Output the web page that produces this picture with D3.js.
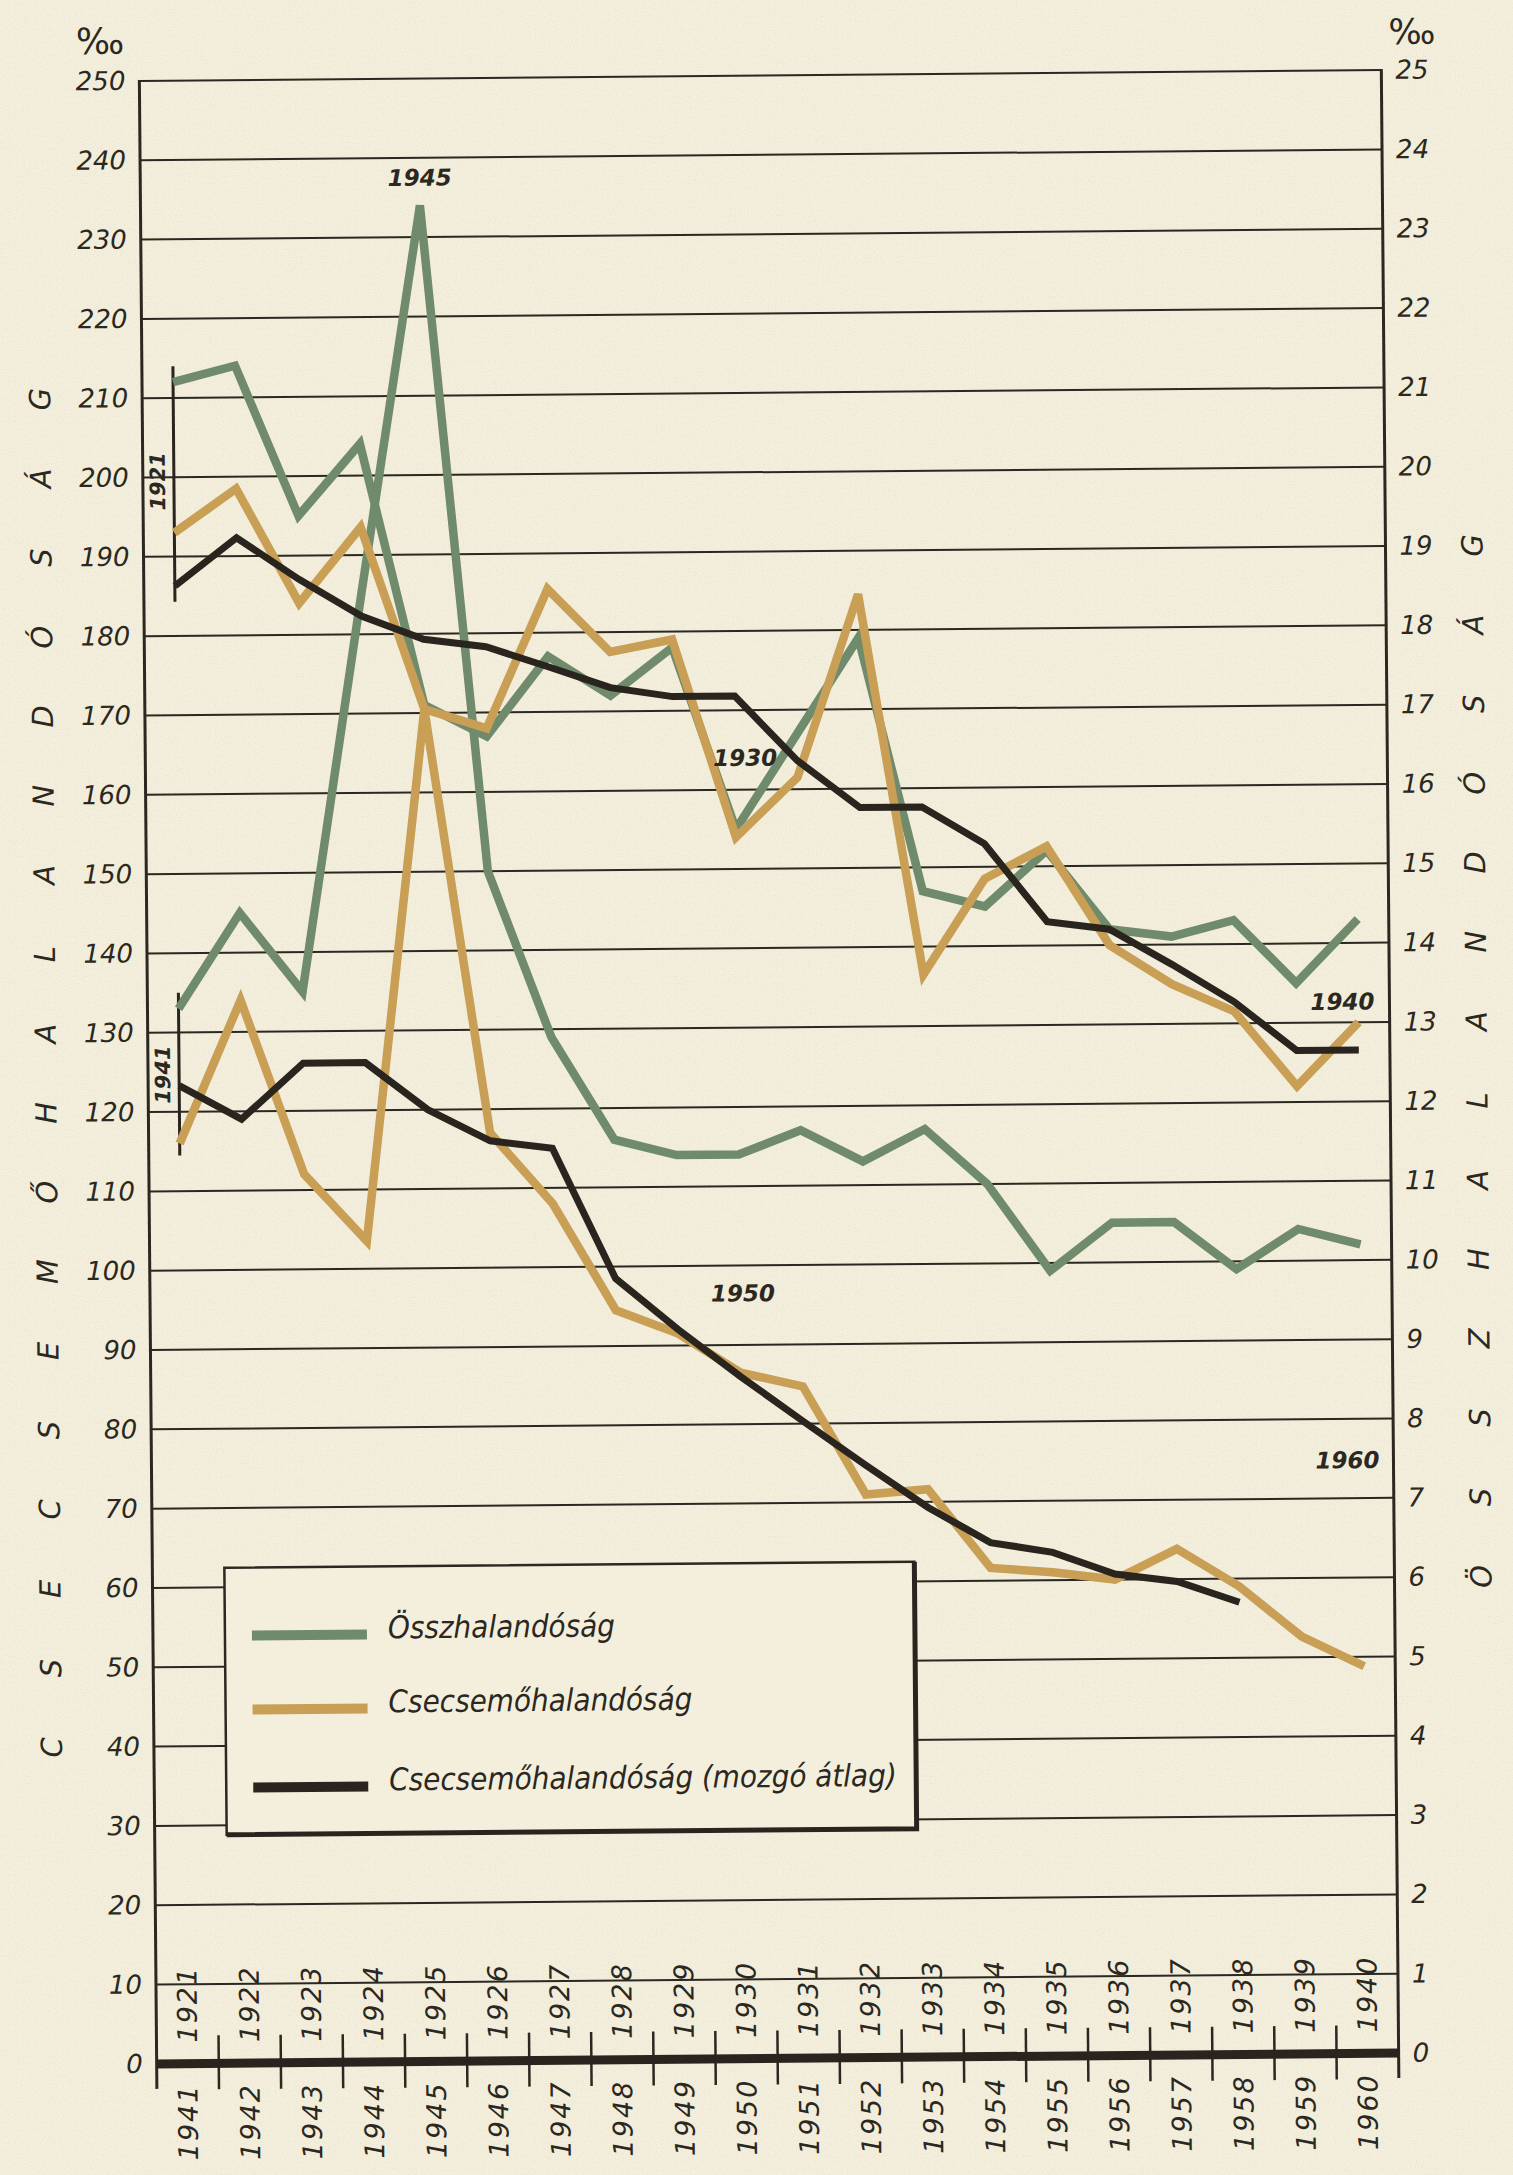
<!DOCTYPE html>
<html>
<head>
<meta charset="utf-8">
<script src="https://cdn.jsdelivr.net/npm/d3@7"></script>
<style>
  html, body { margin: 0; padding: 0; background: #f3efdc; }
  svg { display: block; }
  text { font-family: "DejaVu Sans", sans-serif; font-style: italic; }
</style>
</head>
<body>
<svg id="chart" width="1513" height="2175"></svg>
<script>
// data: two 20-year periods drawn on the same x positions
const yearsEarly = ["1921", "1922", "1923", "1924", "1925", "1926", "1927", "1928", "1929", "1930",
  "1931", "1932", "1933", "1934", "1935", "1936", "1937", "1938", "1939", "1940"];
const yearsLate = ["1941", "1942", "1943", "1944", "1945", "1946", "1947", "1948", "1949", "1950",
  "1951", "1952", "1953", "1954", "1955", "1956", "1957", "1958", "1959", "1960"];

// Összhalandóság, ‰ (right axis)
const totalEarly = [21.2, 21.4, 19.5, 20.4, 17.1, 16.7, 17.7, 17.2, 17.8, 15.5,
  16.7, 17.9, 14.7, 14.5, 15.2, 14.2, 14.1, 14.3, 13.5, 14.3];
const totalLate = [13.3, 14.5, 13.5, 18.5, 23.4, 15.0, 12.9, 11.6, 11.4, 11.4,
  11.7, 11.3, 11.7, 11.0, 9.9, 10.5, 10.5, 9.9, 10.4, 10.2];

// Csecsemőhalandóság, ‰ (left axis)
const infantEarly = [193, 198.5, 184, 193.5, 170.5, 168, 185.5, 177.5, 179, 154,
  161.5, 184.5, 136.5, 148.5, 152.5, 140, 135, 131.5, 122, 130];
const infantLate = [116, 134, 112, 103.5, 170.5, 117, 108, 94.5, 91.5, 86.5,
  84.7, 71, 71.6, 61.6, 61, 60, 63.8, 59, 52.6, 48.8];

// Csecsemőhalandóság (mozgó átlag)
const avgEarly = [186.3, 192.3, 187, 182.3, 179.3, 178.3, 175.7, 173, 171.8, 171.8,
  163.6, 157.6, 157.6, 152.9, 143, 142, 137.5, 132.7, 126.5, 126.5];
const avgLate = [123.3, 119, 126, 126, 120, 116, 115, 98.5, 92, 86,
  80.3, 74.7, 69.3, 64.8, 63.5, 60.7, 59.7, 57];

const seriesNames = ["Összhalandóság", "Csecsemőhalandóság", "Csecsemőhalandóság (mozgó átlag)"];
const leftTitle = "CSECSEMŐHALANDÓSÁG";
const rightTitle = "ÖSSZHALANDÓSÁG";

const paper = "#f3efdc";
const ink = "#2b2721";
const green = "#6f8b6c";
const ochre = "#c99e55";
const dark = "#2a241e";

const plot = { left: 148, right: 1390, top: 75.5, bottom: 2058.5 };

const svg = d3.select("#chart");

// paper with a faint grain
const defs = svg.append("defs");
const grain = defs.append("filter").attr("id", "grain")
  .attr("x", 0).attr("y", 0).attr("width", "100%").attr("height", "100%");
grain.append("feTurbulence")
  .attr("type", "fractalNoise")
  .attr("baseFrequency", 0.85)
  .attr("numOctaves", 1)
  .attr("seed", 3);
grain.append("feColorMatrix")
  .attr("values", "0 0 0 0 0.45  0 0 0 0 0.42  0 0 0 0 0.33  0 0 0 -2.6 1.35");

svg.append("rect").attr("width", 1513).attr("height", 2175).attr("fill", paper);
svg.append("rect").attr("width", 1513).attr("height", 2175)
  .attr("filter", "url(#grain)").attr("opacity", 0.18);

// the printed sheet sits slightly rotated
const g = svg.append("g").attr("transform", "rotate(-0.5, 769, 1067)");

const x = d3.scaleBand().domain(d3.range(20)).range([plot.left, plot.right]);
const xc = (i) => x(i) + x.bandwidth() / 2;
const y = d3.scaleLinear().domain([0, 250]).range([plot.bottom, plot.top]);
const yR = d3.scaleLinear().domain([0, 25]).range([plot.bottom, plot.top]);

// horizontal grid
g.selectAll("line.grid")
  .data(y.ticks(25).filter((d) => d > 0))
  .join("line")
  .attr("class", "grid")
  .attr("x1", plot.left)
  .attr("x2", plot.right)
  .attr("y1", (d) => y(d))
  .attr("y2", (d) => y(d))
  .attr("stroke", ink)
  .attr("stroke-width", 2);

// side axes
[plot.left, plot.right].forEach((px) => {
  g.append("line")
    .attr("x1", px).attr("x2", px)
    .attr("y1", plot.top - 1).attr("y2", plot.bottom + 25)
    .attr("stroke", ink)
    .attr("stroke-width", 3);
});

// year ticks
g.selectAll("line.tick-mark")
  .data(d3.range(1, 20))
  .join("line")
  .attr("class", "tick-mark")
  .attr("x1", (d) => x(d))
  .attr("x2", (d) => x(d))
  .attr("y1", plot.bottom - 28)
  .attr("y2", plot.bottom + 26)
  .attr("stroke", ink)
  .attr("stroke-width", 2.5);

// zero line
g.append("line")
  .attr("x1", plot.left).attr("x2", plot.right)
  .attr("y1", plot.bottom).attr("y2", plot.bottom)
  .attr("stroke", dark)
  .attr("stroke-width", 9);

// value labels
const leftAxis = g.append("g")
  .attr("transform", `translate(${plot.left},0)`)
  .call(d3.axisLeft(y).ticks(25).tickSize(0).tickPadding(14))
  .attr("font-size", 26)
  .attr("font-family", null);
leftAxis.select(".domain").remove();
leftAxis.selectAll("text").attr("fill", ink);

const rightAxis = g.append("g")
  .attr("transform", `translate(${plot.right},0)`)
  .call(d3.axisRight(yR).ticks(25).tickSize(0).tickPadding(14))
  .attr("font-size", 26)
  .attr("font-family", null);
rightAxis.select(".domain").remove();
rightAxis.selectAll("text").attr("fill", ink);

// per mille signs
g.append("text")
  .attr("x", plot.left - 39).attr("y", plot.top - 40)
  .attr("text-anchor", "middle").attr("dominant-baseline", "central")
  .style("font-style", "normal")
  .attr("font-size", 36).attr("fill", ink)
  .text("‰");
g.append("text")
  .attr("x", plot.right + 31).attr("y", plot.top - 38)
  .attr("text-anchor", "middle").attr("dominant-baseline", "central")
  .style("font-style", "normal")
  .attr("font-size", 35).attr("fill", ink)
  .text("‰");

// spaced vertical titles
g.selectAll("text.left-title")
  .data(leftTitle.split(""))
  .join("text")
  .attr("class", "left-title")
  .attr("transform", (d, i) => `translate(${plot.left - 102},${y(40 + i * 10)}) rotate(-90)`)
  .attr("text-anchor", "middle").attr("dominant-baseline", "central")
  .attr("font-size", 29).attr("fill", ink)
  .text((d) => d);

g.selectAll("text.right-title")
  .data(rightTitle.split(""))
  .join("text")
  .attr("class", "right-title")
  .attr("transform", (d, i) => `translate(${plot.right + 87},${yR(6 + i)}) rotate(-90)`)
  .attr("text-anchor", "middle").attr("dominant-baseline", "central")
  .attr("font-size", 29).attr("fill", ink)
  .text((d) => d);

// year labels above and below the zero line
g.selectAll("text.year-early")
  .data(yearsEarly)
  .join("text")
  .attr("class", "year-early")
  .attr("transform", (d, i) => `translate(${xc(i)},${plot.bottom - 21}) rotate(-90)`)
  .attr("text-anchor", "start").attr("dominant-baseline", "central")
  .attr("font-size", 27).attr("letter-spacing", 2).attr("fill", ink)
  .text((d) => d);

g.selectAll("text.year-late")
  .data(yearsLate)
  .join("text")
  .attr("class", "year-late")
  .attr("transform", (d, i) => `translate(${xc(i)},${plot.bottom + 20}) rotate(-90)`)
  .attr("text-anchor", "end").attr("dominant-baseline", "central")
  .attr("font-size", 27).attr("letter-spacing", 2).attr("fill", ink)
  .text((d) => d);

// start brackets for the two periods
function bracket(v0, v1, label, vLabel) {
  g.append("line")
    .attr("x1", xc(0)).attr("x2", xc(0))
    .attr("y1", y(v0)).attr("y2", y(v1))
    .attr("stroke", dark).attr("stroke-width", 3);
  g.append("text")
    .attr("transform", `translate(${xc(0) - 16},${y(vLabel)}) rotate(-90)`)
    .attr("text-anchor", "middle").attr("dominant-baseline", "central")
    .attr("font-size", 21).attr("font-weight", "bold").attr("fill", ink)
    .text(label);
}
bracket(214, 184.3, yearsEarly[0], 199.5);
bracket(135, 114.5, yearsLate[0], 124.7);

// series lines
const lineLeft = d3.line().x((d, i) => xc(i)).y((d) => y(d));
const lineRight = d3.line().x((d, i) => xc(i)).y((d) => yR(d));

const drawn = [
  { data: totalEarly, gen: lineRight, color: green, w: 8.5 },
  { data: totalLate, gen: lineRight, color: green, w: 8.5 },
  { data: infantEarly, gen: lineLeft, color: ochre, w: 8.5 },
  { data: infantLate, gen: lineLeft, color: ochre, w: 8.5 },
  { data: avgEarly, gen: lineLeft, color: dark, w: 7 },
  { data: avgLate, gen: lineLeft, color: dark, w: 7 },
];
g.selectAll("path.series")
  .data(drawn)
  .join("path")
  .attr("class", "series")
  .attr("d", (d) => d.gen(d.data))
  .attr("fill", "none")
  .attr("stroke", (d) => d.color)
  .attr("stroke-width", (d) => d.w)
  .attr("stroke-linejoin", "miter")
  .attr("stroke-miterlimit", 4);

// year notes on the lines
const notes = [
  { text: "1945", i: 4, dx: 0, v: 237.5 },
  { text: "1930", i: 9, dx: 10, v: 164 },
  { text: "1950", i: 9, dx: 3, v: 96.5 },
  { text: "1940", i: 19, dx: -16, v: 132.6 },
  { text: "1960", i: 19, dx: -15, v: 74.8 },
];
g.selectAll("text.note")
  .data(notes)
  .join("text")
  .attr("class", "note")
  .attr("x", (d) => xc(d.i) + d.dx)
  .attr("y", (d) => y(d.v))
  .attr("text-anchor", "middle").attr("dominant-baseline", "central")
  .attr("font-size", 23).attr("font-weight", "bold").attr("fill", ink)
  .text((d) => d.text);

// legend
const legend = g.append("g").attr("transform", "translate(220,1563)");
legend.append("rect")
  .attr("width", 690).attr("height", 267)
  .attr("fill", paper)
  .attr("stroke", ink).attr("stroke-width", 2.5);
legend.append("path")
  .attr("d", "M690,0 V267 H0")
  .attr("fill", "none")
  .attr("stroke", dark).attr("stroke-width", 5);

const legendRows = legend.selectAll("g.row")
  .data(seriesNames.map((name, k) => ({ name, color: [green, ochre, dark][k], dy: [68, 142, 220][k] })))
  .join("g")
  .attr("class", "row")
  .attr("transform", (d) => `translate(0,${d.dy})`);
legendRows.append("line")
  .attr("x1", 27).attr("x2", 142)
  .attr("stroke", (d) => d.color)
  .attr("stroke-width", 10);
legendRows.append("text")
  .attr("x", 163).attr("y", 4)
  .style("font-family", "'DejaVu Sans Condensed', 'DejaVu Sans', sans-serif")
  .style("font-stretch", "condensed")
  .attr("font-size", 31).attr("fill", ink)
  .text((d) => d.name);
</script>
</body>
</html>
